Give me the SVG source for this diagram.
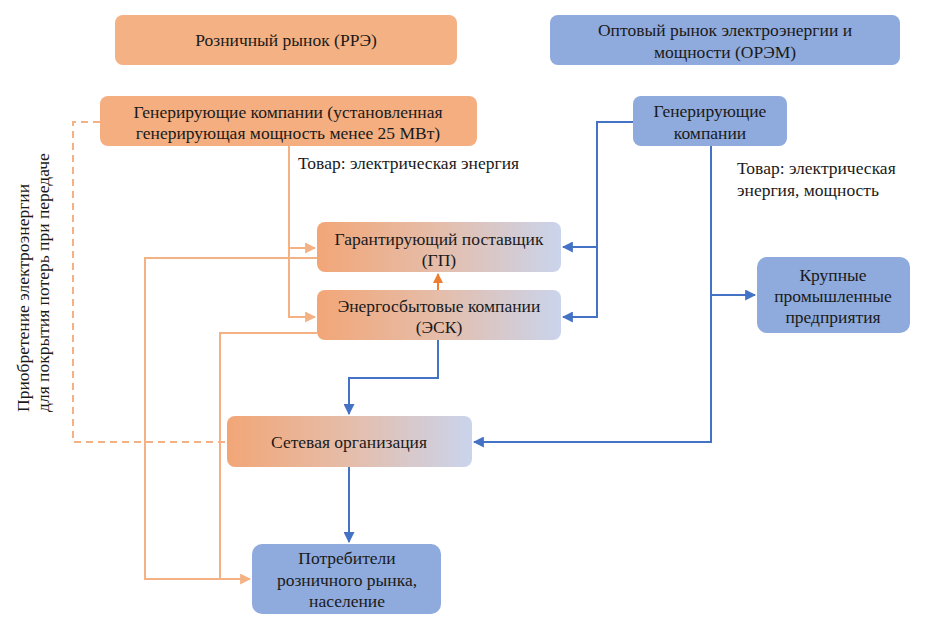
<svg xmlns="http://www.w3.org/2000/svg" width="935" height="634" viewBox="0 0 935 634" font-family="Liberation Serif, DejaVu Serif, serif">
<style>
text{font-family:"Liberation Serif","DejaVu Serif",serif;font-size:17.5px;fill:#1a1a1a}
.c{text-anchor:middle}
.or{fill:#F4B183}
.bl{fill:#8FAADC}
.gr{fill:url(#g)}
.lo{fill:none;stroke:#F4B183;stroke-width:2}
.lb{fill:none;stroke:#4472C4;stroke-width:2}
</style>
<defs>
<linearGradient id="g" x1="0" y1="0" x2="1" y2="0">
<stop offset="0" stop-color="#F2A677"/>
<stop offset="0.5" stop-color="#E5BDAA"/>
<stop offset="1" stop-color="#CAD4EC"/>
</linearGradient>
<marker id="ao" viewBox="0 0 10 10" refX="9" refY="5" markerWidth="11" markerHeight="11" markerUnits="userSpaceOnUse" orient="auto">
<path d="M0,0 L10,5 L0,10 Z" fill="#F4B183"/>
</marker>
<marker id="ad" viewBox="0 0 10 10" refX="9" refY="5" markerWidth="10" markerHeight="10" markerUnits="userSpaceOnUse" orient="auto">
<path d="M0,0 L10,5 L0,10 Z" fill="#ED7D31"/>
</marker>
<marker id="ab" viewBox="0 0 10 10" refX="9" refY="5" markerWidth="11" markerHeight="11" markerUnits="userSpaceOnUse" orient="auto">
<path d="M0,0 L10,5 L0,10 Z" fill="#4472C4"/>
</marker>
</defs>
<rect width="935" height="634" fill="#fff"/>
<g id="connectors">
<path class="lo" d="M289,146 V317 H315" marker-end="url(#ao)"/>
<path class="lo" d="M289,248 H315" marker-end="url(#ao)"/>
<path class="lo" d="M317,258 H145 V579 H250" marker-end="url(#ao)"/>
<path class="lo" d="M317,333 H220 V579"/>
<path class="lo" d="M100,122 H73 V442 H227" stroke-dasharray="7,5"/>
<path d="M438,290 V274" fill="none" stroke="#ED7D31" stroke-width="2" marker-end="url(#ad)"/>
<path class="lb" d="M633,122 H597 V317 H563" marker-end="url(#ab)"/>
<path class="lb" d="M597,247 H563" marker-end="url(#ab)"/>
<path class="lb" d="M711,146 V442 H474" marker-end="url(#ab)"/>
<path class="lb" d="M711,295 H755" marker-end="url(#ab)"/>
<path class="lb" d="M438,340 V378 H349 V414" marker-end="url(#ab)"/>
<path class="lb" d="M349,467 V542" marker-end="url(#ab)"/>
</g>
<g id="rre">
<rect class="or" x="115" y="15" width="342" height="50" rx="8"/>
<text class="c" x="286" y="46">Розничный рынок (РРЭ)</text>
</g>
<g id="orem">
<rect class="bl" x="550" y="15" width="350" height="50" rx="8"/>
<text class="c" x="725" y="36">Оптовый рынок электроэнергии и</text>
<text class="c" x="725" y="58">мощности (ОРЭМ)</text>
</g>
<g id="gen-retail">
<rect x="100" y="96" width="377" height="50" rx="8" fill="#F4AE80"/>
<text class="c" x="288" y="118">Генерирующие компании (установленная</text>
<text class="c" x="288" y="139">генерирующая мощность менее 25 МВт)</text>
</g>
<g id="gen-wholesale">
<rect class="bl" x="633" y="96" width="154" height="50" rx="8"/>
<text class="c" x="710" y="117">Генерирующие</text>
<text class="c" x="710" y="139">компании</text>
</g>
<g id="label-retail">
<text x="298" y="169">Товар: электрическая энергия</text>
</g>
<g id="label-wholesale">
<text x="737" y="174">Товар: электрическая</text>
<text x="737" y="196">энергия, мощность</text>
</g>
<g id="gp">
<rect class="gr" x="317" y="222" width="244" height="50" rx="8"/>
<text class="c" x="439" y="245">Гарантирующий поставщик</text>
<text class="c" x="439" y="266">(ГП)</text>
</g>
<g id="esk">
<rect class="gr" x="317" y="290" width="244" height="50" rx="8"/>
<text class="c" x="439" y="312">Энергосбытовые компании</text>
<text class="c" x="439" y="333">(ЭСК)</text>
</g>
<g id="large">
<rect class="bl" x="757" y="257" width="153" height="76" rx="10"/>
<text class="c" x="833" y="281">Крупные</text>
<text class="c" x="833" y="302">промышленные</text>
<text class="c" x="833" y="323">предприятия</text>
</g>
<g id="grid">
<rect class="gr" x="227" y="416" width="245" height="51" rx="8"/>
<text class="c" x="349" y="448">Сетевая организация</text>
</g>
<g id="consumers">
<rect class="bl" x="252" y="544" width="189" height="70" rx="10"/>
<text class="c" x="347" y="564">Потребители</text>
<text class="c" x="347" y="586">розничного рынка,</text>
<text class="c" x="347" y="607">население</text>
</g>
<g id="side-label">
<text transform="translate(29,412) rotate(-90)">Приобретение электроэнергии</text>
<text transform="translate(49,412) rotate(-90)">для покрытия потерь при передаче</text>
</g>
</svg>
